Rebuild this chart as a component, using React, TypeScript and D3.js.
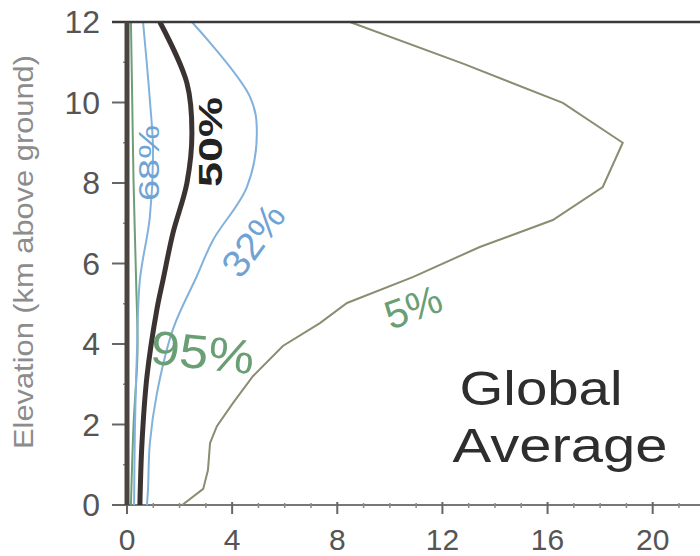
import React from "react";
import * as d3 from "d3";

// elevation profiles, [value, km above ground]
const p5: [number, number][] = [
  [2.1, 0], [2.9, 0.4], [3.08, 0.87], [3.16, 1.54], [3.42, 1.96], [4.03, 2.53],
  [4.79, 3.2], [5.93, 3.95], [7.34, 4.52], [8.37, 5.02], [10.87, 5.66],
  [13.42, 6.41], [16.2, 7.08], [18.1, 7.9], [18.86, 9.0], [16.58, 9.99],
  [12.81, 10.96], [8.48, 12],
];
const p32: [number, number][] = [
  [0.76, 0], [0.8, 0.4], [0.87, 1.54], [1.14, 2.78], [1.75, 4.37], [2.66, 5.69],
  [3.27, 6.58], [4.56, 7.9], [4.94, 9.24], [4.68, 10.14], [2.47, 12],
];
const p50: [number, number][] = [
  [0.49, 0], [0.57, 1.54], [0.76, 3.2], [1.14, 4.87], [1.37, 5.59], [1.75, 6.76],
  [2.28, 8.0], [2.47, 9.24], [2.28, 10.48], [1.25, 12],
];
const p68: [number, number][] = [
  [0.27, 0], [0.3, 1.86], [0.38, 3.85], [0.49, 5.59], [0.87, 7.16], [0.99, 8.82],
  [0.87, 10.06], [0.61, 12],
];
const p95: [number, number][] = [
  [0.15, 0], [0.25, 2], [0.4, 3.8], [0.35, 5.5], [0.25, 8], [0.2, 10], [0.15, 12],
];

const xTicks = [0, 4, 8, 12, 16, 20];
const yTicks = [0, 2, 4, 6, 8, 10, 12];

const FONT = "'Liberation Sans', Arial, sans-serif";

export default function App() {
  // scales: 0 at x=127, 26.3px per unit; 0 km at y=505, 12 km at y=22
  const x = d3.scaleLinear().domain([0, 21.8]).range([127, 700]);
  const y = d3.scaleLinear().domain([0, 12]).range([505, 22]);

  const straight = d3.line<[number, number]>().x(d => x(d[0])).y(d => y(d[1]));
  const smooth = d3.line<[number, number]>().x(d => x(d[0])).y(d => y(d[1]))
    .curve(d3.curveCatmullRom.alpha(0.5));

  const minorX = d3.range(0, 22, 1).filter(v => v % 4 !== 0);
  const minorY = d3.range(1, 12, 2);

  return (
    <svg width={700} height={556} style={{position: "absolute", left: 0, top: 0, background: "#fff"}}>
      {/* y axis title */}
      <text transform="translate(33,252) rotate(-90)" textAnchor="middle" fontFamily={FONT}
        fontSize={28} fill="#8c8c8c" textLength={394} lengthAdjust="spacingAndGlyphs">
        Elevation (km above ground)
      </text>

      {/* bottom axis */}
      <line x1={112} x2={700} y1={y(0)} y2={y(0)} stroke="#777" strokeWidth={2} />
      {minorX.map(v => (
        <line key={"mx" + v} x1={x(v)} x2={x(v)} y1={y(0) - 2} y2={y(0) + 3} stroke="#888" strokeWidth={1.5} />
      ))}
      {xTicks.map(v => (
        <g key={"x" + v}>
          <line x1={x(v)} x2={x(v)} y1={y(0) - 3} y2={y(0) + 9} stroke="#666" strokeWidth={2} />
          <text x={x(v)} y={550} textAnchor="middle" fontFamily={FONT} fontSize={30} fill="#555">{v}</text>
        </g>
      ))}

      {/* left axis ticks + labels */}
      {minorY.map(v => (
        <line key={"my" + v} x1={123} x2={128} y1={y(v)} y2={y(v)} stroke="#888" strokeWidth={1.5} />
      ))}
      {yTicks.map(v => (
        <g key={"y" + v}>
          <line x1={112} x2={128} y1={y(v)} y2={y(v)} stroke="#666" strokeWidth={2} />
          <text x={100} y={y(v) + 11} textAnchor="end" fontFamily={FONT} fontSize={32} fill="#555">{v}</text>
        </g>
      ))}

      {/* profiles */}
      <path d={straight(p5) || ""} fill="none" stroke="#8c8c72" strokeWidth={2} />
      <path d={smooth(p95) || ""} fill="none" stroke="#6e9e76" strokeWidth={2} />
      <path d={smooth(p68) || ""} fill="none" stroke="#82b2dc" strokeWidth={2} />
      <path d={smooth(p32) || ""} fill="none" stroke="#82b2dc" strokeWidth={2} />
      <path d={smooth(p50) || ""} fill="none" stroke="#3b3331" strokeWidth={5} />

      {/* frame lines */}
      <line x1={112} x2={700} y1={y(12)} y2={y(12)} stroke="#3a3a3a" strokeWidth={2.5} />
      <line x1={x(0)} x2={x(0)} y1={y(12)} y2={y(0)} stroke="#4a4540" strokeWidth={5} />

      {/* curve labels */}
      <text transform="translate(222,142) rotate(-90)" textAnchor="middle" fontFamily={FONT}
        fontSize={34} fontWeight="bold" fill="#222" textLength={90} lengthAdjust="spacingAndGlyphs">50%</text>
      <text transform="translate(159,163) rotate(-90)" textAnchor="middle" fontFamily={FONT}
        fontSize={30} fill="#6fa3d4" textLength={76} lengthAdjust="spacingAndGlyphs">68%</text>
      <text transform="translate(264,248) rotate(-54)" textAnchor="middle" fontFamily={FONT}
        fontSize={38} fill="#6fa3d4" textLength={80} lengthAdjust="spacingAndGlyphs">32%</text>
      <text transform="translate(201,369) rotate(6)" textAnchor="middle" fontFamily={FONT}
        fontSize={48} fill="#6a9e74" textLength={104} lengthAdjust="spacingAndGlyphs">95%</text>
      <text transform="translate(418,320) rotate(-20)" textAnchor="middle" fontFamily={FONT}
        fontSize={40} fill="#6a9e74">5%</text>

      {/* panel title */}
      <text x={541} y={405} textAnchor="middle" fontFamily={FONT} fontSize={48} fill="#2e2e2e"
        textLength={163} lengthAdjust="spacingAndGlyphs">Global</text>
      <text x={560} y={462} textAnchor="middle" fontFamily={FONT} fontSize={48} fill="#2e2e2e"
        textLength={215} lengthAdjust="spacingAndGlyphs">Average</text>
    </svg>
  );
}
